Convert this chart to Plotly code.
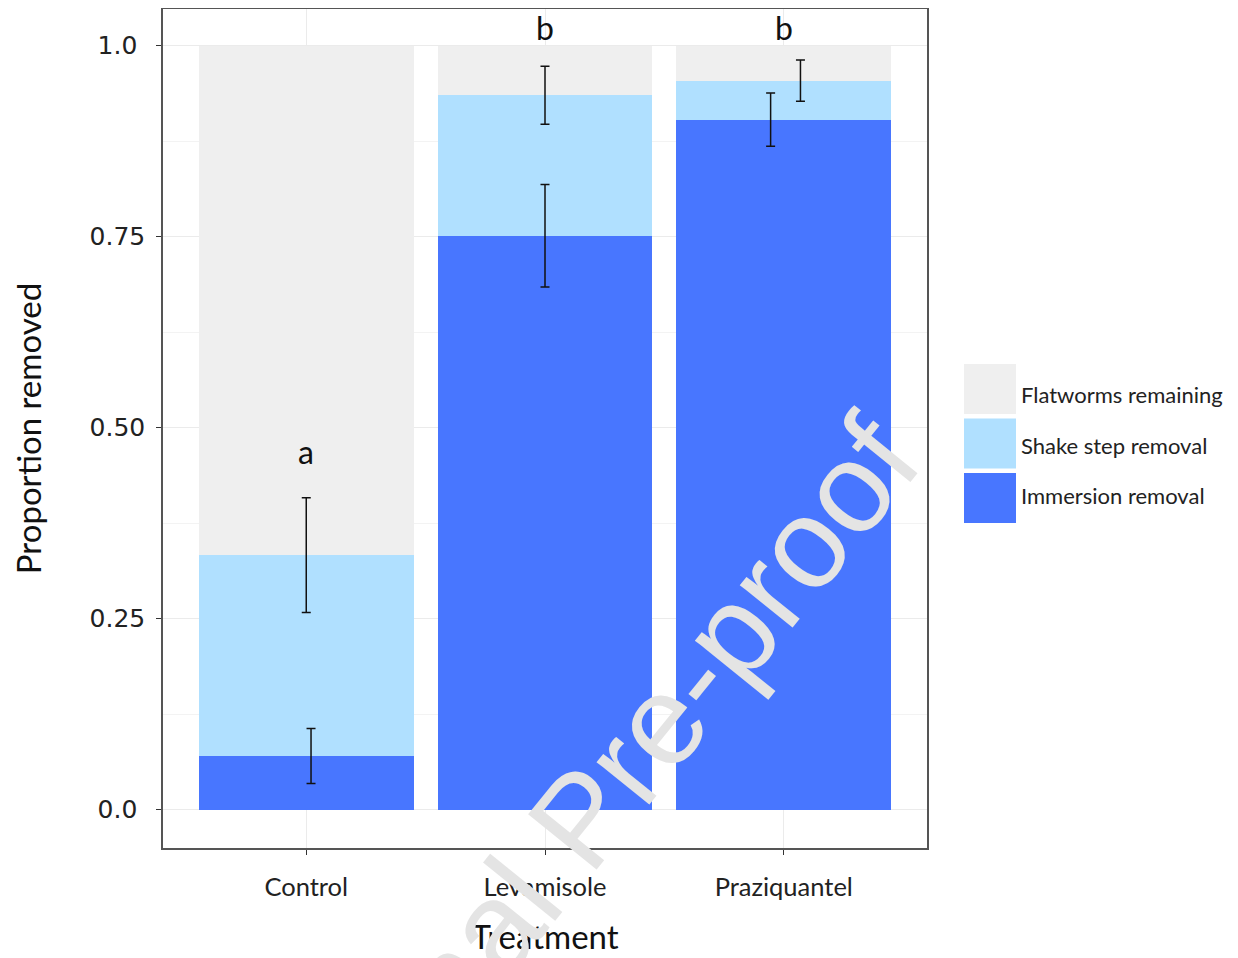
import plotly.graph_objects as go

# ---- data ----
treatments = ["Control", "Levamisole", "Praziquantel"]
immersion = [0.070, 0.751, 0.903]
shake = [0.263, 0.184, 0.051]
immersion_err = [0.036, 0.067, 0.035]
shake_err = [0.075, 0.038, 0.027]
letters = ["a", "b", "b"]
letter_y = [0.468, 1.024, 1.024]
y_ticks = [0.0, 0.25, 0.50, 0.75, 1.0]
y_ticktext = ["0.0\u00a0", "0.25", "0.50", "0.75", "1.0\u00a0"]
legend_labels = ["Flatworms remaining", "Shake step removal", "Immersion removal"]

remaining = [1 - a - b for a, b in zip(immersion, shake)]
shake_top = [a + b for a, b in zip(immersion, shake)]

# style / position helpers
C_IMM = "#4876FF"
C_SHAKE = "#B0E0FF"
C_REM = "#EFEFEF"
imm_dx = [0.02, 0.0, -0.055]
shake_dx = [0.0, 0.0, 0.07]
xpos = list(range(len(treatments)))

fig = go.Figure()
fig.add_trace(go.Bar(x=xpos, y=immersion, width=0.9, marker=dict(color=C_IMM, line=dict(width=0)),
                     showlegend=False, name=legend_labels[2]))
fig.add_trace(go.Bar(x=xpos, y=shake, width=0.9, marker=dict(color=C_SHAKE, line=dict(width=0)),
                     showlegend=False, name=legend_labels[1]))
fig.add_trace(go.Bar(x=xpos, y=remaining, width=0.9, marker=dict(color=C_REM, line=dict(width=0)),
                     showlegend=False, name=legend_labels[0]))

fig.add_trace(go.Scatter(
    x=[i + d for i, d in zip(xpos, imm_dx)], y=immersion, mode="markers",
    marker=dict(size=1, opacity=0),
    error_y=dict(type="data", array=immersion_err, color="#111111", thickness=1.5, width=4.5),
    showlegend=False, hoverinfo="skip"))
fig.add_trace(go.Scatter(
    x=[i + d for i, d in zip(xpos, shake_dx)], y=shake_top, mode="markers",
    marker=dict(size=1, opacity=0),
    error_y=dict(type="data", array=shake_err, color="#111111", thickness=1.5, width=4.5),
    showlegend=False, hoverinfo="skip"))

# significance letters
for i, (t, yv) in enumerate(zip(letters, letter_y)):
    fig.add_annotation(x=xpos[i], y=yv, text=t, showarrow=False, xref="x", yref="y",
                       font=dict(family="Lato", size=32, color="#111111"),
                       xanchor="center", yanchor="middle")

# manual legend (large keys); coordinates measured in page pixels
W, H = 764.0, 839.0
L, B = 163.0, 848.0
def px(xp):
    return (xp - L) / W
def py(yp):
    return (B - yp) / H

key_cols = [C_REM, C_SHAKE, C_IMM]
key_tops = [364, 418.5, 473]
text_mid = [394, 445, 495]
for col, top, tm, lab in zip(key_cols, key_tops, text_mid, legend_labels):
    fig.add_shape(type="rect", xref="paper", yref="paper",
                  x0=px(964), x1=px(1016), y0=py(top + 50), y1=py(top),
                  fillcolor=col, line=dict(width=0))
    fig.add_annotation(xref="paper", yref="paper", x=px(1019), y=py(tm), text=lab,
                       showarrow=False, xanchor="left", yanchor="middle",
                       font=dict(family="Lato", size=22, color="#222222"))

# watermark
fig.add_annotation(xref="x", yref="y", x=1.147, y=-0.0137, text="Journal Pre-proof",
                   showarrow=False, textangle=-51, xanchor="center", yanchor="middle",
                   font=dict(family="Liberation Sans", size=128, color="#E4E4E4"))

fig.update_layout(
    width=1230, height=950,
    margin=dict(l=155, r=311, t=1, b=110, autoexpand=False),
    barmode="stack", bargap=0.1,
    plot_bgcolor="white", paper_bgcolor="white",
    showlegend=False,
)
fig.update_xaxes(
    range=[-0.6, 2.6], tickvals=xpos, ticktext=treatments,
    showgrid=True, gridcolor="#EBEBEB", gridwidth=1, zeroline=False,
    showline=True, linecolor="#555555", linewidth=1.5, mirror=True,
    ticks="outside", ticklen=5, tickcolor="#333333", tickwidth=1.2,
    tickfont=dict(family="Lato", size=25.5, color="#222222"),
    ticklabelstandoff=11,
    title=dict(text="Treatment", font=dict(family="Lato", size=33, color="#111111"), standoff=26),
)
fig.update_yaxes(
    range=[-0.0504, 1.0478], tickvals=y_ticks, ticktext=y_ticktext,
    showgrid=True, gridcolor="#EBEBEB", gridwidth=1, zeroline=False,
    minor=dict(showgrid=True, gridcolor="#F3F3F3", gridwidth=1, tickvals=[0.125, 0.375, 0.625, 0.875]),
    showline=True, linecolor="#555555", linewidth=1.5, mirror=True,
    ticks="outside", ticklen=5, tickcolor="#333333", tickwidth=1.2,
    tickfont=dict(family="DejaVu Sans", size=25, color="#222222"),
    ticklabelstandoff=6,
    title=dict(text="Proportion removed", font=dict(family="Lato", size=33, color="#111111"), standoff=39),
)

fig.write_html("out.html")
